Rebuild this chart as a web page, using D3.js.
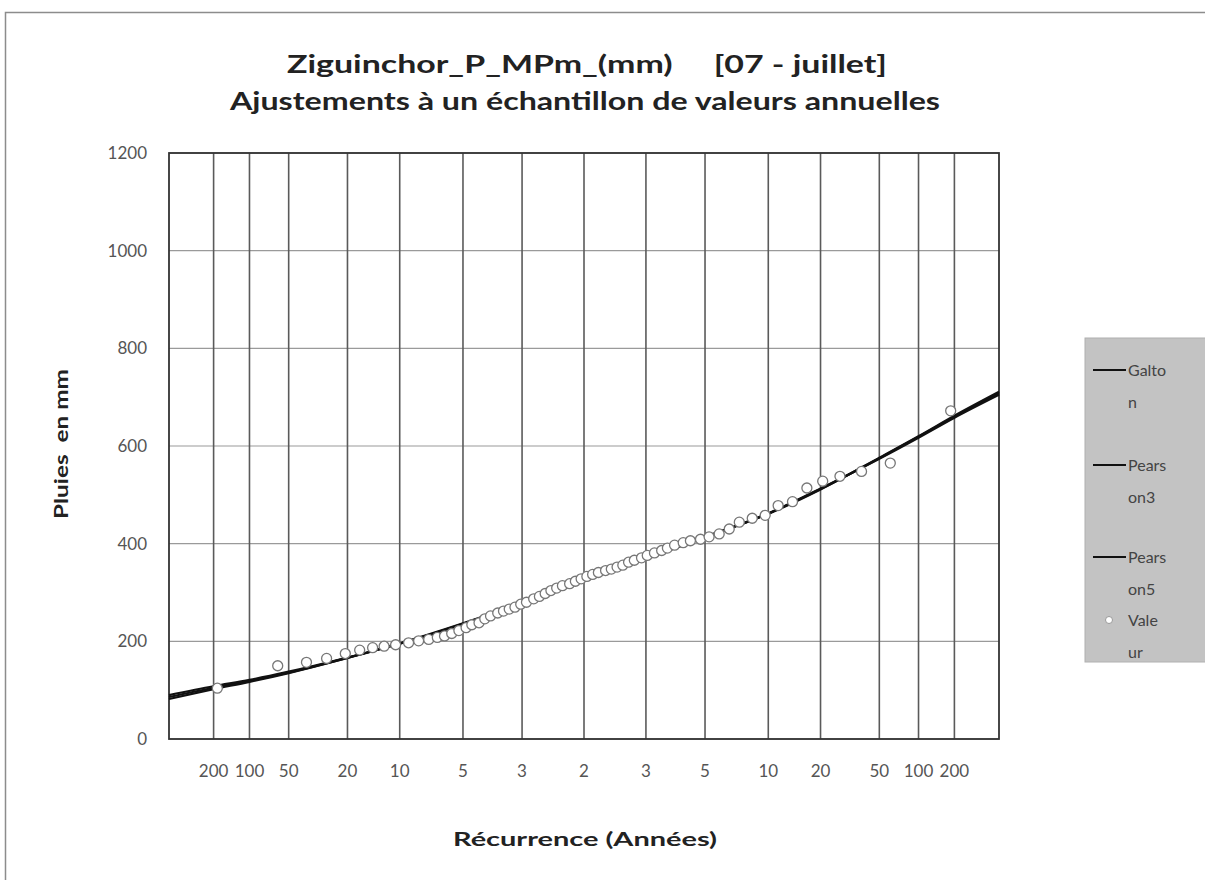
<!DOCTYPE html>
<html>
<head>
<meta charset="utf-8">
<script src="https://cdn.jsdelivr.net/npm/d3@7"></script>
<style>
  body { margin: 0; background: #fff; }
  text { font-family: Lato, "Open Sans", sans-serif; white-space: pre; }
</style>
</head>
<body>
<div id="chart"></div>
<script>
var width = 1205, height = 880;

// return periods shown on the axis (dry side, then wet side)
var dryPeriods = [200, 100, 50, 20, 10, 5, 3, 2];
var wetPeriods = [3, 5, 10, 20, 50, 100, 200];
var yTicks = [0, 200, 400, 600, 800, 1000, 1200];

// fitted curves, reduced Gauss variable u -> rainfall (mm)
var curveU = [-2.886, -2.576, -2.326, -2.054, -1.645, -1.282, -0.842, -0.431, 0, 0.431, 0.842, 1.282, 1.645, 2.054, 2.326, 2.576, 2.886];
var galton = [86, 105, 119, 136, 166, 195, 236, 278, 326, 370, 414, 462, 512, 575, 619, 660, 708];
var pearson3 = [82, 102, 117, 135, 166, 196, 237, 279, 327, 370, 413, 461, 511, 576, 620, 662, 711];
var pearson5 = [90, 108, 121, 138, 167, 195, 235, 277, 325, 369, 413, 462, 513, 574, 617, 658, 705];

// sample of annual values (u, mm)
var obsU = [-2.55, -2.13, -1.93, -1.79, -1.66, -1.56, -1.47, -1.39, -1.31, -1.22, -1.15, -1.08, -1.02, -0.97, -0.92, -0.87, -0.82,
  -0.78, -0.73, -0.69, -0.65, -0.60, -0.56, -0.52, -0.48, -0.44, -0.40, -0.35, -0.31, -0.27, -0.23, -0.19, -0.15, -0.10,
  -0.06, -0.02, 0.02, 0.06, 0.10, 0.15, 0.19, 0.23, 0.27, 0.31, 0.35, 0.40, 0.44, 0.49, 0.54, 0.58, 0.63, 0.69,
  0.74, 0.81, 0.87, 0.94, 1.01, 1.08, 1.17, 1.26, 1.35, 1.45, 1.55, 1.66, 1.78, 1.93, 2.13, 2.55];
var obsVal = [104, 150, 157, 165, 175, 182, 187, 190, 193, 197, 201, 204, 208, 211, 216, 222, 228,
  234, 238, 246, 252, 258, 262, 266, 270, 276, 280, 287, 292, 298, 304, 309, 314, 318,
  323, 328, 333, 337, 341, 345, 348, 352, 356, 362, 366, 371, 376, 381, 386, 391, 397, 402,
  406, 409, 414, 420, 430, 444, 452, 458, 478, 486, 514, 528, 538, 548, 565, 672];

var legendNames = [["Galto", "n"], ["Pears", "on3"], ["Pears", "on5"], ["Vale", "ur"]];

var plotL = 169, plotR = 999, plotT = 153, plotB = 739;

// inverse normal cdf (Acklam)
function quantile(p) {
  var a = [-39.69683028665376, 220.9460984245205, -275.9285104469687, 138.3577518672690, -30.66479806614716, 2.506628277459239];
  var b = [-54.47609879822406, 161.5858368580409, -155.6989798598866, 66.80131188771972, -13.28068155288572];
  var c = [-0.007784894002430293, -0.3223964580411365, -2.400758277161838, -2.549732539343734, 4.374664141464968, 2.938163982698783];
  var d = [0.007784695709041462, 0.3224671290700398, 2.445134137142996, 3.754408661907416];
  var q, r;
  if (p < 0.02425) {
    q = Math.sqrt(-2 * Math.log(p));
    return (((((c[0]*q+c[1])*q+c[2])*q+c[3])*q+c[4])*q+c[5]) / ((((d[0]*q+d[1])*q+d[2])*q+d[3])*q+1);
  } else if (p > 1 - 0.02425) {
    q = Math.sqrt(-2 * Math.log(1 - p));
    return -(((((c[0]*q+c[1])*q+c[2])*q+c[3])*q+c[4])*q+c[5]) / ((((d[0]*q+d[1])*q+d[2])*q+d[3])*q+1);
  }
  q = p - 0.5; r = q * q;
  return (((((a[0]*r+a[1])*r+a[2])*r+a[3])*r+a[4])*r+a[5])*q / (((((b[0]*r+b[1])*r+b[2])*r+b[3])*r+b[4])*r+1);
}

var svg = d3.select("#chart").append("svg")
  .attr("width", width)
  .attr("height", height);

svg.append("rect").attr("width", width).attr("height", height).style("fill", "#fff");
svg.append("path")
  .attr("d", "M5.5," + height + "V12.5H" + width)
  .style("fill", "none").style("stroke", "#8c8c8c").style("stroke-width", 1.5);

var x = d3.scaleLinear().domain([-2.886, 2.886]).range([plotL, plotR]);
var y = d3.scaleLinear().domain([0, 1200]).range([plotB, plotT]);

var ticks = dryPeriods.map(function(T) { return { T: T, u: T == 2 ? 0 : quantile(1 / T) }; })
  .concat(wetPeriods.map(function(T) { return { T: T, u: quantile(1 - 1 / T) }; }));

// horizontal grid
svg.append("g").selectAll("line").data(yTicks).enter().append("line")
  .attr("x1", plotL).attr("x2", plotR)
  .attr("y1", function(d) { return y(d); }).attr("y2", function(d) { return y(d); })
  .style("stroke", "#9a9a9a").style("stroke-width", 1.2);

// vertical grid
svg.append("g").selectAll("line").data(ticks).enter().append("line")
  .attr("x1", function(d) { return x(d.u); }).attr("x2", function(d) { return x(d.u); })
  .attr("y1", plotT).attr("y2", plotB)
  .style("stroke", "#5a5a5a").style("stroke-width", 1.6);

svg.append("rect")
  .attr("x", plotL).attr("y", plotT).attr("width", plotR - plotL).attr("height", plotB - plotT)
  .style("fill", "none").style("stroke", "#333").style("stroke-width", 1.8);

// y axis labels
var yAxis = d3.axisLeft(y).tickValues(yTicks).tickSize(0).tickPadding(22).tickFormat(d3.format("d"));
var gy = svg.append("g").attr("transform", "translate(" + plotL + ",0)").call(yAxis);
gy.select(".domain").remove();
gy.selectAll("text").style("font-size", "17px").style("fill", "#555").style("font-family", "Lato, sans-serif");

// x axis labels
svg.append("g").selectAll("text").data(ticks).enter().append("text")
  .attr("x", function(d) { return x(d.u); })
  .attr("y", plotB + 38)
  .attr("text-anchor", "middle")
  .style("font-size", "17px").style("fill", "#555")
  .text(function(d) { return d.T; });

// curves
var line = d3.line().x(function(d) { return x(d[0]); }).y(function(d) { return y(d[1]); }).curve(d3.curveMonotoneX);
[galton, pearson3, pearson5].forEach(function(serie) {
  svg.append("path")
    .datum(curveU.map(function(u, i) { return [u, serie[i]]; }))
    .attr("d", line)
    .style("fill", "none").style("stroke", "#111").style("stroke-width", 2.2);
});

// observed values
svg.append("g").selectAll("circle").data(obsU).enter().append("circle")
  .attr("cx", function(d) { return x(d); })
  .attr("cy", function(d, i) { return y(obsVal[i]); })
  .attr("r", 5)
  .style("fill", "#fff").style("stroke", "#777").style("stroke-width", 1.3);

// titles
svg.append("text").attr("x", 587).attr("y", 73).attr("text-anchor", "middle")
  .attr("textLength", 600).attr("lengthAdjust", "spacingAndGlyphs")
  .style("font-size", "24px").style("font-weight", "bold").style("fill", "#222")
  .text("Ziguinchor_P_MPm_(mm)     [07 - juillet]");
svg.append("text").attr("x", 585).attr("y", 110).attr("text-anchor", "middle")
  .attr("textLength", 710).attr("lengthAdjust", "spacingAndGlyphs")
  .style("font-size", "24px").style("font-weight", "bold").style("fill", "#222")
  .text("Ajustements à un échantillon de valeurs annuelles");

svg.append("text").attr("x", 585).attr("y", 846).attr("text-anchor", "middle")
  .attr("textLength", 264).attr("lengthAdjust", "spacingAndGlyphs")
  .style("font-size", "19px").style("font-weight", "bold").style("fill", "#222")
  .text("Récurrence (Années)");
svg.append("text").attr("transform", "translate(68,444) rotate(-90)").attr("text-anchor", "middle")
  .attr("textLength", 150).attr("lengthAdjust", "spacingAndGlyphs")
  .style("font-size", "18px").style("font-weight", "bold").style("fill", "#222")
  .text("Pluies  en mm");

// legend
var lg = svg.append("g").attr("transform", "translate(1085,338)");
lg.append("rect").attr("width", 140).attr("height", 324)
  .style("fill", "#c3c3c3").style("stroke", "#b0b0b0");
var rowY = [32, 127, 219, 282];
legendNames.forEach(function(nm, i) {
  var g = lg.append("g").attr("transform", "translate(0," + rowY[i] + ")");
  if (i < 3) {
    g.append("line").attr("x1", 8).attr("x2", 41).attr("y1", 0).attr("y2", 0)
      .style("stroke", "#111").style("stroke-width", 2);
  } else {
    g.append("circle").attr("cx", 24).attr("cy", 0).attr("r", 3.5)
      .style("fill", "#fff").style("stroke", "#999");
  }
  g.append("text").attr("x", 43).attr("y", 6).style("font-size", "16px").style("fill", "#444").text(nm[0]);
  g.append("text").attr("x", 43).attr("y", 38).style("font-size", "16px").style("fill", "#444").text(nm[1]);
});
</script>
</body>
</html>
